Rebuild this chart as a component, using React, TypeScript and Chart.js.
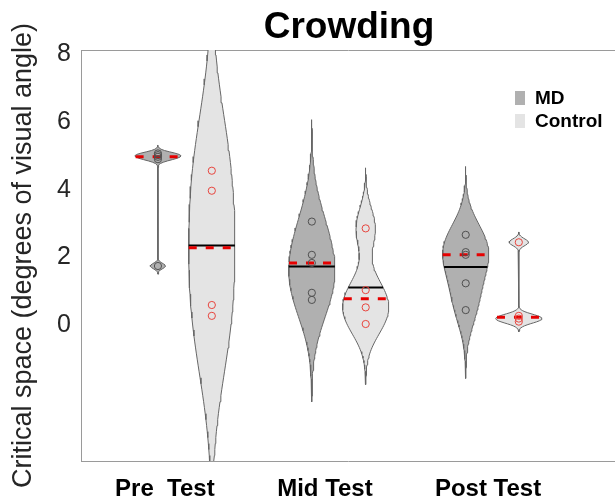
import React, { useEffect, useRef } from "react";
import { Chart, registerables } from "chart.js";

Chart.register(...registerables);

// ---- data ----
const groupLabels = ["Pre  Test", "Mid Test", "Post Test"];
const groupLabelPos = [1.09, 3.17, 5.29];
const seriesNames = ["MD", "Control"];
const mdPos = [1, 3, 5];
const ctrlPos = [1.7, 3.7, 5.69];

const mdPre = [5.07, 5.02, 4.97, 4.9, 1.75];
const mdMid = [3.06, 2.08, 1.84, 0.96, 0.75];
const mdPost = [2.67, 2.16, 2.08, 1.24, 0.45];
const ctrlPre = [4.56, 3.97, 0.6, 0.28];
const ctrlMid = [2.86, 1.04, 0.53, 0.04];
const ctrlPost = [2.45, 0.28, 0.2, 0.11];

const yTicks = [0, 2, 4, 6, 8];
const yMin = -4;
const yMax = 8.12;
const xMin = 0;
const xMax = 6.94;

// ---- styles ----
const FONT = "'Liberation Sans', Arial, Helvetica, sans-serif";
const mdFill = "#b0b0b0";
const ctrlFill = "#e4e4e4";
const edgeColor = "#666666";
const mdPoint = "#505050";
const ctrlPoint = "#e8463f";
const medianColor = "#e60000";
const VIOLIN_HALF = 0.3;

function median(arr: number[]): number {
  const s = [...arr].sort((a, b) => a - b);
  const m = Math.floor(s.length / 2);
  return s.length % 2 ? s[m] : (s[m - 1] + s[m]) / 2;
}

function kde(data: number[], n = 100) {
  const N = data.length;
  const med = median(data);
  const mad = median(data.map((v) => Math.abs(v - med)));
  const sig = mad / 0.6745;
  const h = sig * Math.pow(4 / (3 * N), 0.2);
  const lo = Math.min(...data) - 3 * h;
  const hi = Math.max(...data) + 3 * h;
  const us: number[] = [];
  const fs: number[] = [];
  for (let i = 0; i < n; i++) {
    const u = lo + ((hi - lo) * i) / (n - 1);
    let f = 0;
    for (const x of data) f += Math.exp(-0.5 * ((u - x) / h) ** 2);
    us.push(u);
    fs.push(f);
  }
  const mx = Math.max(...fs);
  return { us, fs: fs.map((f) => (f / mx) * VIOLIN_HALF) };
}

function widthAt(us: number[], fs: number[], v: number): number {
  if (v <= us[0] || v >= us[us.length - 1]) return 0;
  for (let i = 1; i < us.length; i++) {
    if (us[i] >= v) {
      const t = (v - us[i - 1]) / (us[i] - us[i - 1]);
      return fs[i - 1] + t * (fs[i] - fs[i - 1]);
    }
  }
  return 0;
}

function violinDatasets(data: number[], pos: number, fill: string, pointColor: string) {
  const { us, fs } = kde(data);
  const outline: { x: number; y: number }[] = [];
  for (let i = 0; i < us.length; i++) outline.push({ x: pos + fs[i], y: us[i] });
  for (let i = us.length - 1; i >= 0; i--) outline.push({ x: pos - fs[i], y: us[i] });
  outline.push({ x: pos + fs[0], y: us[0] });
  const mean = data.reduce((a, b) => a + b, 0) / data.length;
  const med = median(data);
  const wMean = widthAt(us, fs, mean);
  const wMed = widthAt(us, fs, med);
  return [
    {
      type: "line" as const,
      data: outline,
      showLine: true,
      fill: "shape",
      backgroundColor: fill,
      borderColor: edgeColor,
      borderWidth: 1,
      pointRadius: 0,
      tension: 0,
      order: 3,
    },
    {
      type: "line" as const,
      data: [
        { x: pos - wMean, y: mean },
        { x: pos + wMean, y: mean },
      ],
      showLine: true,
      fill: false,
      borderColor: "#000000",
      borderWidth: 2,
      pointRadius: 0,
      order: 2,
    },
    {
      type: "line" as const,
      data: [
        { x: pos - wMed, y: med },
        { x: pos + wMed, y: med },
      ],
      showLine: true,
      fill: false,
      borderColor: medianColor,
      borderWidth: 3,
      borderDash: [8, 9],
      pointRadius: 0,
      order: 1,
    },
    {
      type: "scatter" as const,
      data: data.map((v) => ({ x: pos, y: v })),
      showLine: false,
      pointStyle: "circle",
      pointRadius: 3.6,
      pointBorderWidth: 1,
      pointBackgroundColor: "rgba(0,0,0,0)",
      pointBorderColor: pointColor,
      borderColor: pointColor,
      backgroundColor: "rgba(0,0,0,0)",
      order: 0,
    },
  ];
}

const overlayPlugin = {
  id: "overlay",
  afterDraw(chart: any) {
    const { ctx, chartArea } = chart;
    ctx.save();
    // title
    ctx.fillStyle = "#000";
    ctx.font = `bold 37px ${FONT}`;
    ctx.textAlign = "center";
    ctx.textBaseline = "middle";
    ctx.fillText("Crowding", (chartArea.left + chartArea.right) / 2 + 1, 28);
    // legend
    const lx = 515;
    const rows = [
      { name: seriesNames[0], color: mdFill, y: 98 },
      { name: seriesNames[1], color: ctrlFill, y: 121 },
    ];
    ctx.textAlign = "left";
    ctx.font = `bold 19px ${FONT}`;
    for (const r of rows) {
      ctx.fillStyle = r.color;
      ctx.fillRect(lx, r.y - 7, 10, 14);
      ctx.fillStyle = "#000";
      ctx.fillText(r.name, lx + 20, r.y + 1);
    }
    ctx.restore();
  },
};

export default function App() {
  const ref = useRef<HTMLCanvasElement | null>(null);
  useEffect(() => {
    if (!ref.current) return;
    const datasets: any[] = [
      ...violinDatasets(mdPre, mdPos[0], mdFill, mdPoint),
      ...violinDatasets(ctrlPre, ctrlPos[0], ctrlFill, ctrlPoint),
      ...violinDatasets(mdMid, mdPos[1], mdFill, mdPoint),
      ...violinDatasets(ctrlMid, ctrlPos[1], ctrlFill, ctrlPoint),
      ...violinDatasets(mdPost, mdPos[2], mdFill, mdPoint),
      ...violinDatasets(ctrlPost, ctrlPos[2], ctrlFill, ctrlPoint),
    ];
    const chart = new Chart(ref.current, {
      type: "scatter",
      data: { datasets },
      options: {
        responsive: false,
        animation: false,
        events: [],
        layout: { autoPadding: false, padding: { top: 50, left: 0, right: 0, bottom: 0 } },
        plugins: {
          legend: { display: false },
          tooltip: { enabled: false },
          title: { display: false },
        },
        scales: {
          x: {
            type: "linear",
            position: "bottom",
            min: xMin,
            max: xMax,
            grid: { display: false, drawTicks: false },
            border: { display: true, color: "#9a9a9a", width: 1 },
            afterBuildTicks: (s: any) => {
              s.ticks = groupLabelPos.map((v) => ({ value: v }));
            },
            ticks: {
              autoSkip: false,
              maxRotation: 0,
              padding: 14,
              color: "#000",
              font: { family: FONT, size: 24, weight: "bold" },
              callback: (_v: any, i: number) => groupLabels[i],
            },
            afterFit: (s: any) => {
              s.height = 38;
            },
          },
          xTop: {
            type: "linear",
            position: "top",
            min: xMin,
            max: xMax,
            grid: { display: false, drawTicks: false },
            ticks: { display: false },
            border: { display: true, color: "#9a9a9a", width: 1 },
            afterFit: (s: any) => {
              s.height = 0;
            },
          },
          y: {
            type: "linear",
            min: yMin,
            max: yMax,
            grid: { display: false, drawTicks: false },
            border: { display: true, color: "#9a9a9a", width: 1 },
            afterBuildTicks: (s: any) => {
              s.ticks = yTicks.map((v) => ({ value: v }));
            },
            ticks: {
              padding: 10,
              color: "#262626",
              font: { family: FONT, size: 25 },
            },
            title: {
              display: true,
              text: "Critical space (degrees of visual angle)",
              color: "#262626",
              font: { family: FONT, size: 27 },
              padding: { top: 7.5, bottom: 0 },
            },
            afterFit: (s: any) => {
              s.width = 81;
            },
          },
        },
      } as any,
      plugins: [overlayPlugin],
    });
    return () => chart.destroy();
  }, []);
  return (
    <div style={{ position: "absolute", left: 0, top: 0, width: 615, height: 499 }}>
      <canvas ref={ref} width={615} height={499} style={{ display: "block" }} />
    </div>
  );
}
